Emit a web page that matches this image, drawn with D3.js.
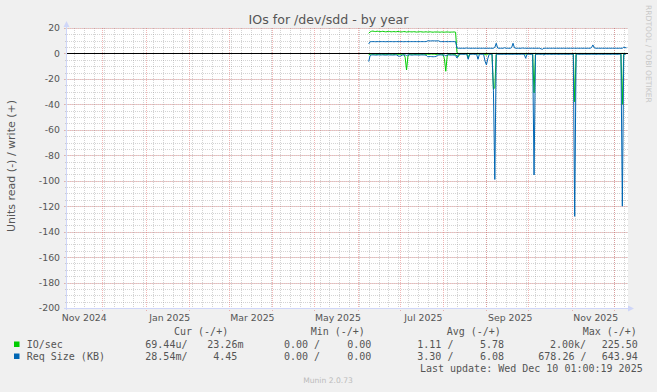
<!DOCTYPE html>
<html>
<head>
<meta charset="utf-8">
<script src="https://cdn.jsdelivr.net/npm/d3@7/dist/d3.min.js"></script>
<style>
  html, body { margin: 0; padding: 0; background: #f0f0f0; }
  svg { display: block; }
  text { font-family: "DejaVu Sans", sans-serif; }
  .mono { font-family: "DejaVu Sans Mono", monospace; font-size: 10px; fill: #555; white-space: pre; }
</style>
</head>
<body>
<svg id="chart" width="657" height="392"></svg>
<script>
// daily samples, first one on 2025-06-09
const firstDay = Date.UTC(2025, 5, 9);

const ioWrite = [
  15.9, 16.9, 17.4, 17.6, 17.3, 17.2, 17.5, 17.3, 17.1, 17.2,
  17.4, 17.2, 17.0, 17.1, 17.3, 17.2, 17.0, 17.1, 17.2, 17.0,
  17.1, 17.3, 17.1, 16.9, 17.0, 17.2, 17.1, 16.8, 17.0, 17.1,
  17.0, 16.9, 17.1, 17.0, 16.8, 16.9, 17.0, 17.1, 16.9, 16.8,
  16.9, 17.0, 16.8, 16.9, 17.0, 16.8, 16.7, 16.9, 16.8, 16.9,
  16.8, 16.7, 16.9, 16.8, 16.7, 16.8, 16.9, 16.8, 16.7, 16.8,
  16.8, 16.9, 16.7, 0.6, 0.03, 0.02, 0.03, 0.02, 0.02, 0.03,
  0.02, 0.03, 0.02, 0.02, 0.02, 0.03, 0.02, 0.02, 0.02, 0.03,
  0.02, 0.02, 0.03, 0.02, 0.02, 0.02, 0.03, 0.02, 0.02, 0.05,
  0.04, 0.02, 0.02, 0.03, 0.02, 0.02, 0.02, 0.03, 0.02, 0.02,
  0.02, 0.03, 0.02, 0.02, 0.02, 0.03, 0.02, 0.02, 0.02, 0.03,
  0.02, 0.02, 0.03, 0.02, 0.02, 0.02, 0.03, 0.02, 0.05, 0.02,
  0.02, 0.03, 0.02, 0.02, 0.02, 0.03, 0.02, 0.02, 0.02, 0.03,
  0.02, 0.02, 0.03, 0.02, 0.02, 0.02, 0.03, 0.02, 0.02, 0.02,
  0.03, 0.02, 0.02, 0.02, 0.03, 0.02, 0.02, 0.05, 0.02, 0.02,
  0.02, 0.03, 0.02, 0.02, 0.02, 0.03, 0.02, 0.02, 0.02, 0.03,
  0.02, 0.02, 0.03, 0.02, 0.02, 0.02, 0.03, 0.02, 0.02, 0.02,
  0.03, 0.02, 0.02, 0.02, 0.03, 0.02, 0.02, 0.02, 0.03, 0.02,
  0.02, 0.05, 0.02, 0.02, 0.023
];
const ioRead = [
  -1.0, -0.6, -0.6, -0.5, -0.6, -0.6, -0.7, -0.6, -0.6, -0.5,
  -0.6, -0.6, -0.7, -0.6, -0.6, -0.5, -0.6, -0.6, -0.7, -0.6,
  -0.6, -0.6, -0.7, -0.6, -0.6, -0.6, -3.0, -13.0, -2.0, -0.6,
  -0.6, -0.5, -0.6, -0.6, -0.7, -0.6, -0.6, -0.6, -0.5, -0.6,
  -0.6, -0.7, -0.6, -0.6, -0.6, -0.5, -0.6, -0.6, -0.7, -0.6,
  -0.6, -0.6, -0.6, -0.7, -4.0, -14.0, -2.0, -0.6, -0.6, -0.6,
  -0.6, -0.7, -0.8, -2.0, -2.5, -0.2, -0.2, -0.2, -0.3, -0.2,
  -0.2, -3.5, -0.3, -0.2, -0.2, -0.2, -0.3, -0.2, -0.5, -0.2,
  -0.2, -0.2, -0.3, -0.8, -1.2, -0.5, -0.2, -0.2, -0.3, -28.0,
  -27.0, -0.5, -0.2, -0.2, -0.2, -0.3, -0.2, -0.2, -0.2, -0.2,
  -0.2, -0.3, -0.2, -0.2, -0.2, -0.2, -0.3, -0.2, -0.2, -0.2,
  -0.2, -0.2, -0.6, -0.2, -0.2, -0.3, -0.2, -0.2, -31.0, -0.4,
  -0.2, -0.2, -0.2, -0.3, -0.2, -0.4, -0.2, -0.2, -0.2, -0.2,
  -0.3, -0.2, -0.2, -0.2, -0.2, -0.3, -0.2, -0.2, -0.2, -0.2,
  -0.2, -0.3, -0.2, -0.2, -0.2, -0.2, -0.3, -38.0, -0.4, -0.2,
  -0.2, -0.2, -0.3, -0.2, -0.2, -0.2, -0.2, -0.3, -0.2, -0.2,
  -0.2, -0.2, -0.3, -0.2, -0.2, -0.2, -0.2, -0.3, -0.2, -0.2,
  -0.2, -0.3, -0.2, -0.2, -0.2, -0.2, -0.3, -0.2, -0.2, -0.2,
  -0.2, -40.0, -0.4, -0.2, -0.0001
];
const reqWrite = [
  7.5, 9.2, 9.3, 9.3, 9.3, 9.2, 9.3, 9.3, 9.3, 9.3,
  9.3, 9.3, 9.2, 9.3, 9.3, 9.3, 9.3, 9.3, 9.2, 9.3,
  9.3, 9.3, 9.3, 9.3, 9.3, 9.2, 9.3, 9.3, 9.3, 9.3,
  9.3, 9.3, 9.3, 9.3, 9.3, 9.3, 9.3, 9.3, 9.3, 9.3,
  9.3, 9.3, 9.9, 9.9, 9.8, 9.9, 9.9, 9.9, 9.8, 9.9,
  9.9, 9.3, 9.3, 9.3, 9.3, 9.3, 9.3, 9.3, 9.3, 9.3,
  9.3, 9.3, 9.2, 4.3, 4.1, 4.1, 4.1, 4.1, 4.1, 4.1,
  4.3, 4.1, 4.1, 4.1, 4.1, 4.1, 4.1, 4.1, 4.1, 4.1,
  4.1, 4.1, 4.1, 4.1, 4.1, 4.1, 4.1, 4.1, 4.1, 4.1,
  4.8, 8.0, 4.3, 4.1, 4.1, 4.1, 4.1, 4.5, 4.1, 4.1,
  4.1, 4.1, 4.6, 8.0, 4.4, 4.1, 4.1, 4.1, 4.1, 4.1,
  4.3, 4.1, 4.1, 4.1, 4.1, 4.1, 4.1, 4.1, 4.1, 4.1,
  4.1, 4.1, 4.1, 3.6, 3.3, 4.1, 4.1, 4.1, 4.1, 4.1,
  4.1, 4.1, 4.1, 4.1, 4.1, 4.1, 4.1, 4.1, 4.1, 4.1,
  4.1, 4.1, 4.1, 4.1, 4.1, 4.1, 4.1, 4.1, 4.1, 4.1,
  4.1, 4.1, 4.1, 4.1, 4.1, 4.1, 4.1, 4.1, 4.1, 4.6,
  6.7, 4.4, 4.1, 4.1, 4.1, 4.1, 4.1, 4.1, 4.1, 4.1,
  4.1, 4.1, 4.1, 4.1, 4.1, 4.1, 4.1, 4.1, 4.1, 4.1,
  4.1, 4.1, 4.9, 4.6, 4.45
];
const reqRead = [
  -6.4, -1.6, -1.2, -1.1, -1.2, -1.3, -1.2, -1.1, -1.2, -1.2,
  -1.1, -1.2, -1.3, -1.2, -1.1, -1.2, -1.2, -1.3, -1.2, -1.1,
  -1.2, -2.0, -2.2, -1.9, -1.3, -1.2, -1.1, -1.5, -1.2, -1.1,
  -1.2, -1.3, -1.2, -1.1, -1.2, -1.2, -1.3, -1.2, -1.1, -1.2,
  -1.2, -1.4, -2.5, -2.6, -2.4, -2.5, -2.6, -2.5, -2.4, -1.5,
  -1.2, -1.1, -1.2, -1.3, -1.2, -1.8, -1.2, -1.1, -1.2, -1.3,
  -1.2, -1.3, -1.5, -3.6, -1.0, -0.6, -0.6, -0.7, -0.6, -0.6,
  -0.6, -4.6, -0.7, -0.6, -0.6, -0.6, -0.7, -0.6, -4.6, -0.6,
  -0.6, -0.6, -0.7, -6.0, -9.0, -4.0, -0.6, -0.7, -0.6, -29.0,
  -99.0, -1.0, -0.6, -0.6, -0.7, -0.6, -0.6, -0.6, -0.7, -0.6,
  -0.6, -0.6, -0.7, -0.6, -0.6, -0.6, -0.7, -0.6, -0.6, -0.6,
  -0.6, -0.6, -3.8, -0.6, -0.6, -0.6, -0.7, -0.6, -95.5, -1.0,
  -0.6, -0.6, -0.7, -0.6, -0.6, -1.2, -0.6, -0.6, -0.6, -0.6,
  -0.6, -0.7, -0.6, -0.6, -0.6, -0.6, -0.7, -0.6, -0.6, -0.6,
  -0.6, -0.6, -0.7, -0.6, -0.6, -0.6, -0.6, -128.0, -1.0, -0.6,
  -0.6, -0.7, -0.6, -0.6, -0.6, -0.6, -0.7, -0.6, -0.6, -0.6,
  -0.6, -0.6, -0.7, -0.6, -0.6, -0.6, -0.6, -0.7, -0.6, -0.6,
  -0.6, -0.6, -0.7, -0.6, -0.6, -0.6, -0.6, -0.7, -0.6, -0.6,
  -0.6, -120.0, -1.0, -0.6, -0.03
];

const yTickValues = [20, 0, -20, -40, -60, -80, -100, -120, -140, -160, -180, -200];
const xLabelMonths = ["2024-11", "2025-01", "2025-03", "2025-05", "2025-07", "2025-09", "2025-11"];

const legendHeader = ["Cur (-/+)", "Min (-/+)", "Avg (-/+)", "Max (-/+)"];
const legendNames = ["IO/sec", "Req Size (KB)"];
const legendColors = ["#00cc00", "#0066b3"];
const legendValues = [
  ["69.44u/", "23.26m", "0.00 /", "0.00", "1.11 /", "5.78", "2.00k/", "225.50"],
  ["28.54m/", "4.45", "0.00 /", "0.00", "3.30 /", "6.08", "678.26 /", "643.94"]
];

(function () {
  const svg = d3.select("#chart");
  const W = 657, H = 392;
  const plotLeft = 67, plotRight = 628, plotTop = 28, plotBottom = 308;

  const start = new Date(Date.UTC(2024, 10, 6, 1));
  const end = new Date(Date.UTC(2025, 11, 11, 1));
  const x = d3.scaleUtc().domain([start, end]).range([plotLeft + 0.5, plotRight]);
  const y = d3.scaleLinear().domain([-200, 20]).range([plotBottom, plotTop]);
  const px = v => Math.round(v) + 0.5;

  svg.append("rect").attr("width", W).attr("height", H).attr("fill", "#f0f0f0");
  svg.append("rect").attr("x", plotLeft).attr("y", plotTop)
    .attr("width", plotRight - plotLeft).attr("height", plotBottom - plotTop).attr("fill", "#fff");

  // grid (rrdtool style: dotted, minor grey, major red)
  const minorColor = "rgba(143,143,143,0.38)";
  const majorColor = "rgba(222,80,80,0.42)";
  const grid = svg.append("g").attr("shape-rendering", "crispEdges");
  const minorX = d3.utcMonday.range(start, end);
  const majorX = d3.utcMonth.range(start, end);
  grid.selectAll(".vmin").data(minorX).join("line")
    .attr("x1", d => px(x(d))).attr("x2", d => px(x(d)))
    .attr("y1", plotTop).attr("y2", plotBottom + 2)
    .attr("stroke", minorColor).attr("stroke-dasharray", "1,1");
  grid.selectAll(".hmin").data(d3.range(-200, 21, 5)).join("line")
    .attr("x1", plotLeft - 2).attr("x2", plotRight)
    .attr("y1", d => px(y(d))).attr("y2", d => px(y(d)))
    .attr("stroke", minorColor).attr("stroke-dasharray", "1,1");
  grid.selectAll(".vmaj").data(majorX).join("line")
    .attr("x1", d => px(x(d))).attr("x2", d => px(x(d)))
    .attr("y1", plotTop).attr("y2", plotBottom + 3)
    .attr("stroke", majorColor).attr("stroke-dasharray", "1,1");
  grid.selectAll(".hmaj").data(yTickValues).join("line")
    .attr("x1", plotLeft - 3).attr("x2", plotRight)
    .attr("y1", d => px(y(d))).attr("y2", d => px(y(d)))
    .attr("stroke", majorColor).attr("stroke-dasharray", "1,1");

  // axes
  const axisColor = "#cfd6f8";
  svg.append("line").attr("x1", 66.5).attr("x2", 66.5).attr("y1", plotBottom + 2).attr("y2", plotTop - 2)
    .attr("stroke", axisColor);
  svg.append("path").attr("d", "M63.5,27L69.5,27L66.5,21Z").attr("fill", axisColor);
  const axisY = px(plotBottom);
  svg.append("line").attr("x1", plotLeft - 3).attr("x2", plotRight).attr("y1", axisY).attr("y2", axisY)
    .attr("stroke", axisColor);
  svg.append("path")
    .attr("d", `M${plotRight},${axisY - 3}L${plotRight},${axisY + 3}L${plotRight + 6},${axisY}Z`)
    .attr("fill", axisColor);

  // tick labels
  svg.append("g").selectAll("text").data(yTickValues).join("text")
    .attr("x", 60).attr("y", d => y(d)).attr("dy", "0.37em")
    .attr("text-anchor", "end").attr("font-size", 9.33).attr("fill", "#555")
    .text(d => d);
  const monthFmt = d3.utcFormat("%b %Y");
  const parseMonth = d3.utcParse("%Y-%m");
  svg.append("g").selectAll("text").data(xLabelMonths.map(parseMonth)).join("text")
    .attr("x", d => x(d3.utcDay.offset(d, 17))).attr("y", 320.5)
    .attr("text-anchor", "middle").attr("font-size", 9.33).attr("fill", "#555")
    .text(d => monthFmt(d));

  // data lines
  const series = [
    { values: ioWrite, color: legendColors[0] },
    { values: ioRead, color: legendColors[0] },
    { values: reqWrite, color: legendColors[1] },
    { values: reqRead, color: legendColors[1] }
  ];
  const line = d3.line()
    .x((d, i) => x(d3.utcDay.offset(new Date(firstDay), i)))
    .y(d => y(Math.max(-200, Math.min(20, d))));
  svg.append("g").selectAll("path").data(series).join("path")
    .attr("d", d => line(d.values))
    .attr("fill", "none").attr("stroke", d => d.color).attr("stroke-width", 1);

  // zero rule
  svg.append("line").attr("x1", plotLeft).attr("x2", plotRight).attr("y1", px(y(0))).attr("y2", px(y(0)))
    .attr("stroke", "#000").attr("shape-rendering", "crispEdges");

  // titles
  svg.append("text").attr("x", W / 2).attr("y", 24).attr("text-anchor", "middle")
    .attr("font-size", 12.6).attr("fill", "#555").text("IOs for /dev/sdd - by year");
  svg.append("text").attr("transform", "translate(14.5,166) rotate(-90)").attr("text-anchor", "middle")
    .attr("font-size", 11).attr("fill", "#555").text("Units read (-) / write (+)");
  svg.append("text").attr("transform", "translate(645.5,5) rotate(90)")
    .attr("font-size", 7.6).attr("fill", "#c8c8c8").text("RRDTOOL / TOBI OETIKER");

  // legend
  const headerX = [174, 310.7, 446.7, 582.7];
  const valueX = [
    [145.3, 207.3, 284, 347.3, 417.3, 480, 550, 601.7],
    [145.3, 213.3, 284, 347.3, 417.3, 480, 538.3, 601.7]
  ];
  svg.append("g").selectAll("text").data(legendHeader).join("text")
    .attr("class", "mono").attr("x", (d, i) => headerX[i]).attr("y", 335).text(d => d);
  legendNames.forEach((name, r) => {
    const yy = 347.5 + r * 12;
    const g = svg.append("g");
    g.append("rect").attr("x", 14).attr("y", yy - 6).attr("width", 5.5).attr("height", 5.5)
      .attr("fill", legendColors[r]);
    g.append("text").attr("class", "mono").attr("x", 26.7).attr("y", yy).text(name);
    g.selectAll(".v").data(legendValues[r]).join("text")
      .attr("class", "mono")
      .attr("x", (d, i) => valueX[r][i])
      .attr("y", yy).text(d => d);
  });
  svg.append("text").attr("class", "mono").attr("x", 642.7).attr("y", 372).attr("text-anchor", "end")
    .text("Last update: Wed Dec 10 01:00:19 2025");
  svg.append("text").attr("x", 328).attr("y", 382.7).attr("text-anchor", "middle")
    .attr("font-size", 7.6).attr("fill", "#bbb").text("Munin 2.0.73");
})();
</script>
</body>
</html>
